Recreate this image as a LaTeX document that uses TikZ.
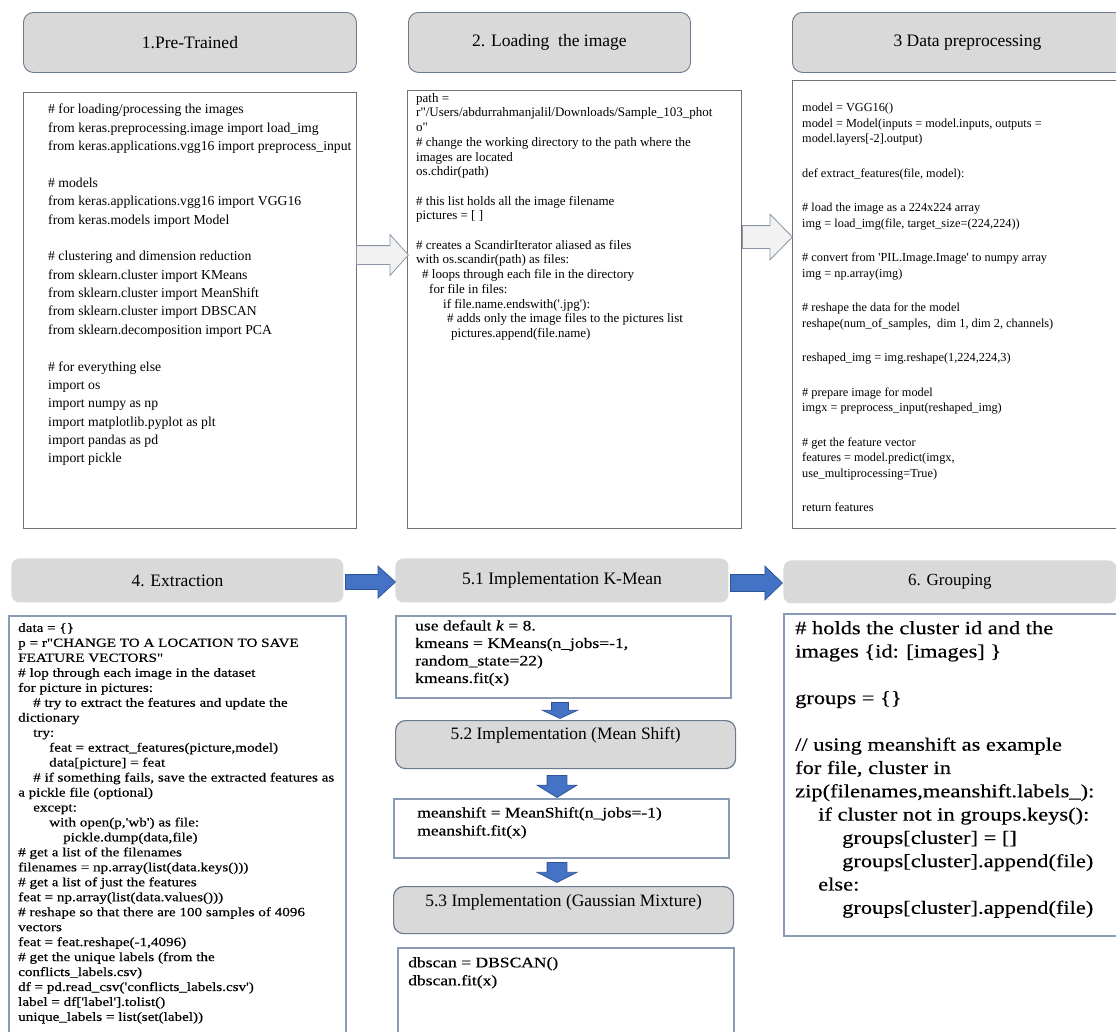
\documentclass[tikz,border=0pt]{standalone}
\usepackage{fontspec}
\setmainfont{Liberation Serif}
\newfontfamily\codefont{Liberation Serif}
\newfontfamily\widefont[FakeStretch=1.2,FakeBold=0.4]{Liberation Serif}
\usetikzlibrary{positioning,shapes.arrows}

\definecolor{headfill}{HTML}{D9D9D9}
\definecolor{headline}{HTML}{6B7A8F}
\definecolor{boxline}{HTML}{727272}
\definecolor{boxlineb}{HTML}{8A9BB6}
\definecolor{arrowfill}{HTML}{F2F2F2}
\definecolor{arrowline}{HTML}{8A96A8}
\definecolor{bluefill}{HTML}{4472C4}
\definecolor{blueline}{HTML}{2F5597}

\begin{document}
\begin{tikzpicture}[x=1pt, y=-1pt,
  header/.style={draw=headline, fill=headfill, rounded corners=10pt, line width=0.9pt,
    inner sep=0pt, anchor=north west, font=\fontsize{17.5}{21}\selectfont},
  flathead/.style={header, draw=none, rounded corners=8pt},
  codebox/.style={draw=boxline, line width=0.9pt, inner sep=0pt, anchor=north west},
  codeboxb/.style={codebox, draw=boxlineb, line width=1.5pt},
  codetext/.style={align=left, inner sep=0pt},
  headtext/.style={inner sep=0pt, font=\fontsize{17.4}{21}\selectfont},
  hollowarrow/.style={single arrow, draw=arrowline, fill=arrowfill, line width=0.8pt,
    inner xsep=0pt, anchor=tail, single arrow head indent=0pt},
  bluearrow/.style={hollowarrow, draw=blueline, fill=bluefill}
]
\useasboundingbox (0,0) rectangle (1116,1031);

% top row: headers and code boxes
\node[header, minimum width=333, minimum height=60] (h1) at (23,12) {1.Pre-Trained};
\node[header, minimum width=282, minimum height=60] (h2) at (408,12) {2. Loading\ \ the image};
\node[header, minimum width=350, minimum height=60] (h3) at (792,12) {3 Data preprocessing};

\node[codebox, minimum width=333, minimum height=436] (b1) at (23,92) {};
\node[codebox, minimum width=334, minimum height=438] (b2) at (407,90) {};
\node[codebox, minimum width=345, minimum height=448] (b3) at (792,80) {};

\node[codetext, font=\codefont\fontsize{13.7}{18.37}\selectfont] (t1) [below right=12pt and 25pt of b1.north west] {%
\# for loading/processing the images\\
from keras.preprocessing.image import load\_img\\
from keras.applications.vgg16 import preprocess\_input\\[18.37pt]
\# models\\
from keras.applications.vgg16 import VGG16\\
from keras.models import Model\\[18.37pt]
\# clustering and dimension reduction\\
from sklearn.cluster import KMeans\\
from sklearn.cluster import MeanShift\\
from sklearn.cluster import DBSCAN\\
from sklearn.decomposition import PCA\\[18.37pt]
\# for everything else\\
import os\\
import numpy as np\\
import matplotlib.pyplot as plt\\
import pandas as pd\\
import pickle};

\node[codetext, font=\codefont\fontsize{13}{14.7}\selectfont] (t2) [below right=3pt and 9pt of b2.north west] {%
path =\\
r"/Users/abdurrahmanjalil/Downloads/Sample\_103\_phot\\
o"\\
\# change the working directory to the path where the\\
images are located\\
os.chdir(path)\\[14.7pt]
\# this list holds all the image filename\\
pictures = [ ]\\[14.7pt]
\# creates a ScandirIterator aliased as files\\
with os.scandir(path) as files:\\
\hspace*{6pt}\# loops through each file in the directory\\
\hspace*{13pt}for file in files:\\
\hspace*{27pt}if file.name.endswith('.jpg'):\\
\hspace*{31pt}\# adds only the image files to the pictures list\\
\hspace*{35pt}pictures.append(file.name)};

\node[codetext, font=\codefont\fontsize{12.3}{15.5}\selectfont] (t3) [below right=23pt and 10pt of b3.north west] {%
model = VGG16()\\
model = Model(inputs = model.inputs, outputs =\\
model.layers[-2].output)\\[19pt]
def extract\_features(file, model):\\[19pt]
\# load the image as a 224x224 array\\
img = load\_img(file, target\_size=(224,224))\\[19pt]
\# convert from 'PIL.Image.Image' to numpy array\\
img = np.array(img)\\[19pt]
\# reshape the data for the model\\
reshape(num\_of\_samples,\ \ dim 1, dim 2, channels)\\[19pt]
reshaped\_img = img.reshape(1,224,224,3)\\[19pt]
\# prepare image for model\\
imgx = preprocess\_input(reshaped\_img)\\[19pt]
\# get the feature vector\\
features = model.predict(imgx,\\
use\_multiprocessing=True)\\[19pt]
return features};

% hollow arrows between the top boxes
\node[hollowarrow, minimum height=52, inner ysep=9pt, single arrow head extend=11pt,
  single arrow tip angle=96] (a12) at (356,255) {};
\node[hollowarrow, minimum height=50, inner ysep=11pt, single arrow head extend=11.5pt,
  single arrow tip angle=91] (a23) at (742,237) {};

% bottom row
\node[flathead, minimum width=332, minimum height=44] (h4) at (11,558) {4. Extraction};
\node[codeboxb, minimum width=337, minimum height=430] (b4) at (8,615) {};
\node[flathead, minimum width=333, minimum height=44] (h51) at (395,558) {5.1 Implementation K-Mean};
\node[codeboxb, minimum width=335, minimum height=82] (b51) at (395,615) {};
\node[header, line width=1.2pt, minimum width=340, minimum height=48] (h52) at (395,720) {};
\node[headtext] (t52) [below=7pt of h52.north] {5.2 Implementation (Mean Shift)};
\node[codeboxb, minimum width=335, minimum height=59] (b52) at (393,798) {};
\node[header, line width=1.2pt, minimum width=340, minimum height=47] (h53) at (393,886) {};
\node[headtext] (t53) [below=8pt of h53.north] {5.3 Implementation (Gaussian Mixture)};
\node[codeboxb, minimum width=336, minimum height=100] (b53) at (397,947) {};
\node[flathead, minimum width=333, minimum height=43, font=\fontsize{17}{20}\selectfont] (h6) at (783,560) {6. Grouping};
\node[codeboxb, minimum width=340, minimum height=322] (b6) at (783,613) {};

\node[codetext, font=\widefont\fontsize{12.6}{14.96}\selectfont] (t4) [below right=8pt and 10pt of b4.north west] {%
data = \{\}\\
p = r"CHANGE TO A LOCATION TO SAVE\\
FEATURE VECTORS"\\
\# lop through each image in the dataset\\
for picture in pictures:\\
\hspace*{15pt}\# try to extract the features and update the\\
dictionary\\
\hspace*{15pt}try:\\
\hspace*{31pt}feat = extract\_features(picture,model)\\
\hspace*{31pt}data[picture] = feat\\
\hspace*{15pt}\# if something fails, save the extracted features as\\
a pickle file (optional)\\
\hspace*{15pt}except:\\
\hspace*{31pt}with open(p,'wb') as file:\\
\hspace*{45pt}pickle.dump(data,file)\\
\# get a list of the filenames\\
filenames = np.array(list(data.keys()))\\
\# get a list of just the features\\
feat = np.array(list(data.values()))\\
\# reshape so that there are 100 samples of 4096\\
vectors\\
feat = feat.reshape(-1,4096)\\
\# get the unique labels (from the\\
conflicts\_labels.csv)\\
df = pd.read\_csv('conflicts\_labels.csv')\\
label = df['label'].tolist()\\
unique\_labels = list(set(label))};

\node[codetext, font=\widefont\fontsize{14.6}{17.5}\selectfont] (t51) [below right=5pt and 20pt of b51.north west] {%
use default \textit{k} = 8.\\
kmeans = KMeans(n\_jobs=-1,\\
random\_state=22)\\
kmeans.fit(x)};
\node[codetext, font=\widefont\fontsize{14.6}{18}\selectfont] (t52c) [below right=9pt and 24pt of b52.north west] {%
meanshift = MeanShift(n\_jobs=-1)\\
meanshift.fit(x)};
\node[codetext, font=\widefont\fontsize{14.6}{18}\selectfont] (t53c) [below right=10pt and 11pt of b53.north west] {%
dbscan = DBSCAN()\\
dbscan.fit(x)};

\node[codetext, font=\widefont\fontsize{18.7}{23.3}\selectfont] (t6) [below right=8pt and 12pt of b6.north west] {%
\# holds the cluster id and the\\
images \{id: [images] \}\\[23.3pt]
groups = \{\}\\[23.3pt]
// using meanshift as example\\
for file, cluster in\\
zip(filenames,meanshift.labels\_):\\
\hspace*{23pt}if cluster not in groups.keys():\\
\hspace*{47pt}groups[cluster] = []\\
\hspace*{47pt}groups[cluster].append(file)\\
\hspace*{23pt}else:\\
\hspace*{47pt}groups[cluster].append(file)};

% blue arrows
\node[bluearrow, minimum height=50, inner ysep=7pt, single arrow head extend=8.5pt,
  single arrow tip angle=85] (a45) at (345,582) {};
\node[bluearrow, minimum height=52, inner ysep=8pt, single arrow head extend=8.5pt,
  single arrow tip angle=88] (a56) at (730,583) {};
\node[bluearrow, rotate=-90, minimum height=16, inner ysep=8pt, single arrow head extend=9pt,
  single arrow tip angle=130] (d1) at (560,702) {};
\node[bluearrow, rotate=-90, minimum height=22, inner ysep=9.5pt, single arrow head extend=10pt,
  single arrow tip angle=117] (d2) at (557,775) {};
\node[bluearrow, rotate=-90, minimum height=20, inner ysep=9.5pt, single arrow head extend=10pt,
  single arrow tip angle=126] (d3) at (557,862) {};

\end{tikzpicture}
\end{document}
